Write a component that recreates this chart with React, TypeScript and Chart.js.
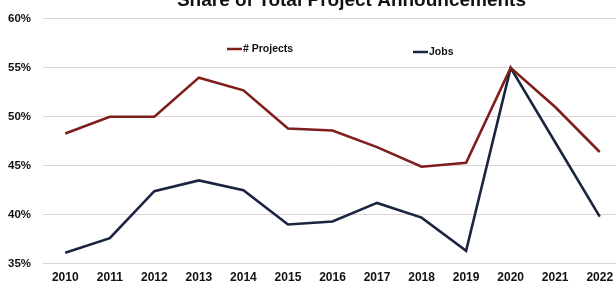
import React, { useEffect, useRef } from "react";
import { Chart, registerables } from "chart.js";

Chart.register(...registerables);

const titleText = "Share of Total Project Announcements";
const years = ["2010", "2011", "2012", "2013", "2014", "2015", "2016", "2017", "2018", "2019", "2020", "2021", "2022"];
const seriesNames = ["# Projects", "Jobs"];
const projects = [48.3, 50.0, 50.0, 54.0, 52.7, 48.8, 48.6, 46.9, 44.9, 45.3, 55.0, 51.0, 46.4];
const jobs = [36.1, 37.6, 42.4, 43.5, 42.5, 39.0, 39.3, 41.2, 39.7, 36.3, 55.0, 47.4, 39.8];
const yMin = 35;
const yMax = 60;
const yStep = 5;

const FONT = "'Liberation Sans', Arial, sans-serif";

const legendPositions = [
  { x: 227, y: 49 },
  { x: 413, y: 52 },
];

const overlayPlugin = {
  id: "overlay",
  afterDraw(chart: any) {
    const ctx = chart.ctx;
    ctx.save();
    // title (cut off at the top like the reference photo)
    ctx.fillStyle = "#111";
    ctx.font = `bold 19px ${FONT}`;
    ctx.textAlign = "right";
    ctx.textBaseline = "alphabetic";
    ctx.fillText(titleText, 526, 6);
    // legend
    ctx.font = `bold 10.5px ${FONT}`;
    ctx.textAlign = "left";
    ctx.textBaseline = "middle";
    chart.data.datasets.forEach((ds: any, i: number) => {
      const p = legendPositions[i];
      ctx.strokeStyle = ds.borderColor;
      ctx.lineWidth = 2.5;
      ctx.beginPath();
      ctx.moveTo(p.x, p.y);
      ctx.lineTo(p.x + 15, p.y);
      ctx.stroke();
      ctx.fillStyle = "#111";
      ctx.fillText(ds.label, p.x + 16, p.y);
    });
    ctx.restore();
  },
};

export default function App() {
  const ref = useRef<HTMLCanvasElement | null>(null);
  useEffect(() => {
    if (!ref.current) return;
    const chart = new Chart(ref.current, {
      type: "line",
      data: {
        labels: years,
        datasets: [
          {
            label: seriesNames[0],
            data: projects,
            borderColor: "#7e1f1c",
            backgroundColor: "#7e1f1c",
            borderWidth: 2.6,
            pointRadius: 0,
            tension: 0,
            borderJoinStyle: "miter",
          },
          {
            label: seriesNames[1],
            data: jobs,
            borderColor: "#1b2540",
            backgroundColor: "#1b2540",
            borderWidth: 2.6,
            pointRadius: 0,
            tension: 0,
            borderJoinStyle: "miter",
          },
        ],
      },
      options: {
        responsive: false,
        animation: false,
        layout: { padding: { top: 16, right: 4, bottom: 0, left: 0 } },
        plugins: {
          legend: { display: false },
          title: { display: false },
          tooltip: { enabled: false },
        },
        scales: {
          x: {
            offset: true,
            grid: { display: false, drawTicks: false },
            border: { display: false },
            ticks: {
              color: "#111",
              font: { family: FONT, size: 12, weight: "bold" },
              padding: 7,
              maxRotation: 0,
              autoSkip: false,
            },
          },
          y: {
            min: yMin,
            max: yMax,
            afterFit: (axis: any) => {
              axis.width = 43;
            },
            grid: { color: "#dcd3da", lineWidth: 1, drawTicks: false },
            border: { display: false },
            ticks: {
              stepSize: yStep,
              color: "#111",
              font: { family: FONT, size: 11.5, weight: "bold" },
              padding: 12,
              callback: (v: any) => `${v}%`,
            },
          },
        },
      },
      plugins: [overlayPlugin],
    });
    return () => chart.destroy();
  }, []);

  return (
    <div
      style={{
        position: "absolute",
        left: 0,
        top: 0,
        width: 616,
        height: 292,
        overflow: "hidden",
        background: "#fff",
      }}
    >
      <canvas ref={ref} width={626} height={292} style={{ display: "block" }} />
    </div>
  );
}
